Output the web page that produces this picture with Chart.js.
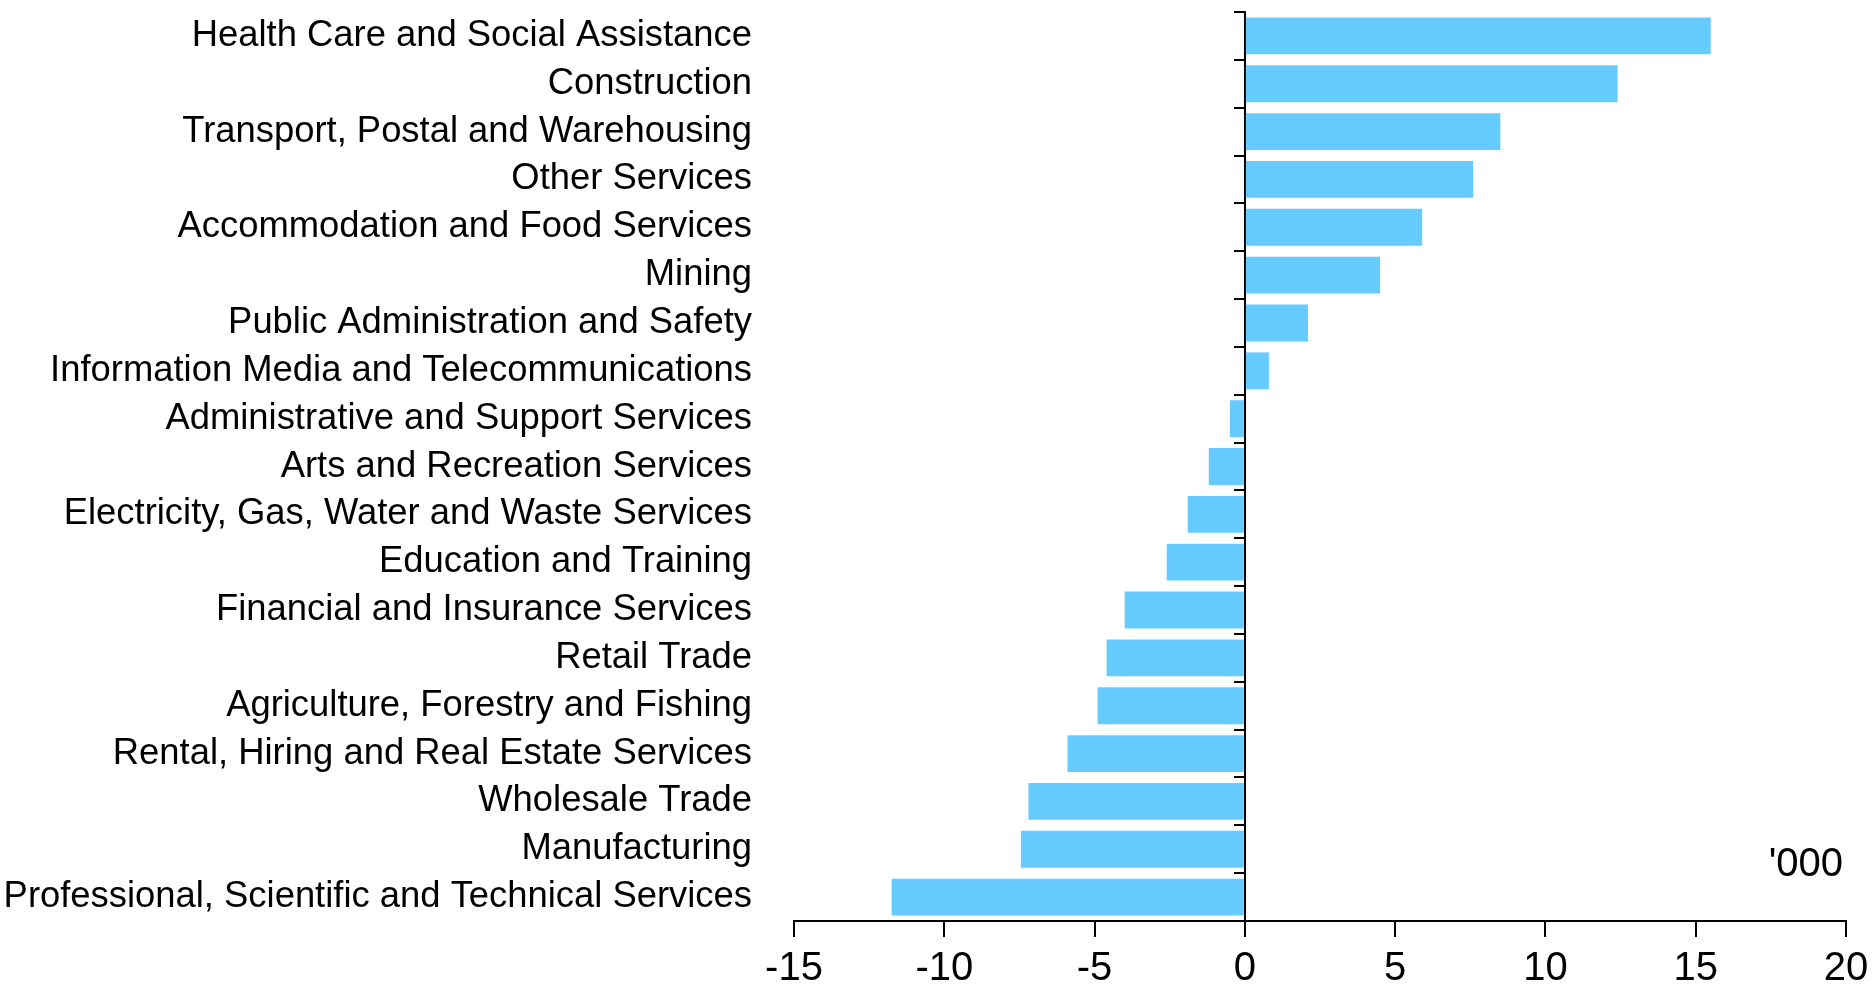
<!DOCTYPE html>
<html>
<head>
<meta charset="utf-8">
<style>
  html, body { margin: 0; padding: 0; background: #ffffff; }
  #wrap { width: 1876px; height: 990px; }
</style>
<script src="https://cdn.jsdelivr.net/npm/chart.js@4/dist/chart.umd.min.js"></script>
</head>
<body>
<div id="wrap"><canvas id="c" width="1876" height="990"></canvas></div>
<script>
const categories = [
  "Health Care and Social Assistance",
  "Construction",
  "Transport, Postal and Warehousing",
  "Other Services",
  "Accommodation and Food Services",
  "Mining",
  "Public Administration and Safety",
  "Information Media and Telecommunications",
  "Administrative and Support Services",
  "Arts and Recreation Services",
  "Electricity, Gas, Water and Waste Services",
  "Education and Training",
  "Financial and Insurance Services",
  "Retail Trade",
  "Agriculture, Forestry and Fishing",
  "Rental, Hiring and Real Estate Services",
  "Wholesale Trade",
  "Manufacturing",
  "Professional, Scientific and Technical Services"
];
const changeValues = [15.5, 12.4, 8.5, 7.6, 5.9, 4.5, 2.1, 0.8, -0.5, -1.2, -1.9, -2.6, -4.0, -4.6, -4.9, -5.9, -7.2, -7.45, -11.75];
const xMin = -15;
const xMax = 20;
const xStep = 5;
const unitLabel = "'000";

const FONT = "'Liberation Sans', Arial, Helvetica, sans-serif";

const unitPlugin = {
  id: 'unitLabel',
  afterDraw(chart) {
    const ctx = chart.ctx;
    const a = chart.chartArea;
    ctx.save();
    ctx.font = "40px " + FONT;
    ctx.fillStyle = '#000000';
    ctx.textAlign = 'right';
    ctx.textBaseline = 'middle';
    ctx.fillText(unitLabel, a.right - 3, a.bottom - 56);
    ctx.restore();
  }
};

function noVPad(scale) {
  scale.paddingTop = 0;
  scale.paddingBottom = 0;
}

new Chart(document.getElementById('c'), {
  type: 'bar',
  data: {
    labels: categories,
    datasets: [{
      data: changeValues,
      backgroundColor: '#66CCFF',
      borderWidth: 0,
      barPercentage: 0.77,
      categoryPercentage: 1.0,
      xAxisID: 'x',
      yAxisID: 'y'
    }]
  },
  options: {
    indexAxis: 'y',
    responsive: false,
    animation: false,
    devicePixelRatio: 1,
    layout: { padding: { top: 12, right: 30, bottom: 3, left: 0 } },
    plugins: { legend: { display: false }, tooltip: { enabled: false } },
    scales: {
      x: {
        type: 'linear',
        position: 'bottom',
        min: xMin,
        max: xMax,
        afterFit(scale) { scale.height = 66; scale.paddingLeft = 0; scale.paddingRight = 0; },
        ticks: {
          stepSize: xStep,
          color: '#000000',
          padding: 12,
          font: { family: FONT, size: 40, lineHeight: 1 },
          maxRotation: 0
        },
        grid: {
          drawOnChartArea: false,
          drawTicks: true,
          tickLength: 16,
          color: '#000000',
          lineWidth: 2
        },
        border: { display: true, color: '#000000', width: 2 }
      },
      y: {
        type: 'category',
        position: 'left',
        offset: true,
        afterFit(scale) { scale.width = 794; noVPad(scale); },
        ticks: {
          color: '#000000',
          padding: 34,
          font: { family: FONT, size: 36.4 },
          autoSkip: false
        },
        grid: { display: false },
        border: { display: false }
      },
      y2: {
        type: 'category',
        axis: 'y',
        position: { x: 0 },
        offset: true,
        afterFit(scale) { scale.width = 0; noVPad(scale); },
        ticks: { display: false },
        grid: {
          offset: true,
          drawOnChartArea: false,
          drawTicks: true,
          tickLength: 10,
          color: '#000000',
          lineWidth: 2
        },
        border: { display: true, color: '#000000', width: 2 }
      }
    }
  },
  plugins: [unitPlugin]
});
</script>
</body>
</html>
